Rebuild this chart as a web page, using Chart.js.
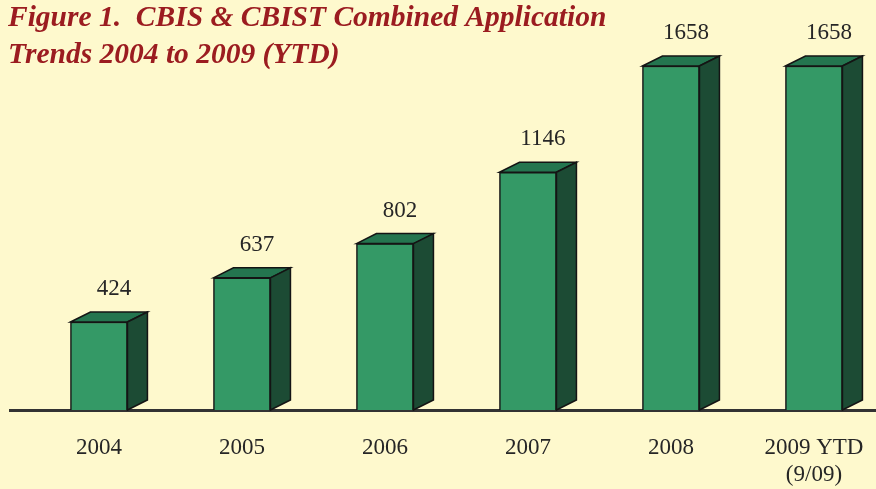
<!DOCTYPE html>
<html>
<head>
<meta charset="utf-8">
<script src="https://cdn.jsdelivr.net/npm/chart.js@4.4.1/dist/chart.umd.min.js"></script>
<style>
  html, body { margin: 0; padding: 0; background: #fef9cd; }
  canvas { display: block; }
</style>
</head>
<body>
<canvas id="myChart" width="876" height="489"></canvas>
<script>
// data
const years = ['2004', '2005', '2006', '2007', '2008', '2009 YTD'];
const tickLabels = ['2004', '2005', '2006', '2007', '2008', ['2009 YTD', '(9/09)']];
const applications = [424, 637, 802, 1146, 1658, 1658];
const titleLines = ['Figure 1.  CBIS & CBIST Combined Application', 'Trends 2004 to 2009 (YTD)'];

const serif = '"Liberation Serif", "DejaVu Serif", serif';
const depthX = 20, depthY = 10;

// draws the side + top faces so the bars look like boxes, then the value labels
const boxPlugin = {
  id: 'box3d',
  afterDatasetsDraw(chart) {
    const c = chart.ctx;
    const meta = chart.getDatasetMeta(0);
    c.save();
    c.lineWidth = 1.5;
    c.strokeStyle = '#141414';
    c.lineJoin = 'miter';
    meta.data.forEach(function(bar, i) {
      const p = bar.getProps(['x', 'y', 'base', 'width'], true);
      const l = p.x - p.width / 2, r = p.x + p.width / 2;
      // top
      c.beginPath();
      c.moveTo(l, p.y);
      c.lineTo(l + depthX, p.y - depthY);
      c.lineTo(r + depthX, p.y - depthY);
      c.lineTo(r, p.y);
      c.closePath();
      c.fillStyle = '#24754f';
      c.fill();
      c.stroke();
      // side
      c.beginPath();
      c.moveTo(r, p.y);
      c.lineTo(r + depthX, p.y - depthY);
      c.lineTo(r + depthX, p.base - depthY);
      c.lineTo(r, p.base);
      c.closePath();
      c.fillStyle = '#1c4b34';
      c.fill();
      c.stroke();
      // value
      c.fillStyle = '#262626';
      c.font = '23px ' + serif;
      c.textAlign = 'center';
      c.textBaseline = 'alphabetic';
      c.fillText(String(applications[i]), p.x + 15, p.y - depthY - 17);
    });
    c.restore();
  }
};

const titlePlugin = {
  id: 'figTitle',
  afterDraw(chart) {
    const c = chart.ctx;
    c.save();
    c.fillStyle = '#9b1c20';
    c.font = 'italic bold 29.5px ' + serif;
    c.textAlign = 'left';
    c.textBaseline = 'alphabetic';
    c.fillText(titleLines[0], 8, 26);
    c.fillText(titleLines[1], 8, 63);
    c.restore();
  }
};

const ctx = document.getElementById('myChart');
const chart = new Chart(ctx, {
  type: 'bar',
  data: {
    datasets: [{
      label: 'Applications',
      data: years.map(function(y, i) { return { x: i, y: applications[i] }; }),
      backgroundColor: '#349966',
      borderColor: '#141414',
      borderWidth: 1.5,
      barThickness: 57
    }]
  },
  options: {
    responsive: false,
    animation: false,
    layout: { padding: { left: 10, right: 0, top: 0, bottom: 0 } },
    plugins: {
      legend: { display: false },
      tooltip: { enabled: false },
      title: { display: false }
    },
    scales: {
      x: {
        type: 'linear',
        offset: false,
        min: -0.622,
        max: 5.434,
        afterBuildTicks: function(scale) {
          scale.ticks = years.map(function(y, i) { return { value: i }; });
        },
        afterFit: function(scale) {
          scale.height = 79;
          scale.paddingLeft = 0;
          scale.paddingRight = 0;
        },
        grid: { display: false, drawTicks: false, offset: false },
        border: { display: true, color: '#333333', width: 3 },
        ticks: {
          autoSkip: false,
          maxRotation: 0,
          padding: 24,
          color: '#262626',
          font: { family: serif, size: 23, lineHeight: 1.2 },
          callback: function(val) { return tickLabels[val]; }
        }
      },
      y: {
        display: false,
        min: 0,
        max: 1976
      }
    }
  },
  plugins: [boxPlugin, titlePlugin]
});
</script>
</body>
</html>
